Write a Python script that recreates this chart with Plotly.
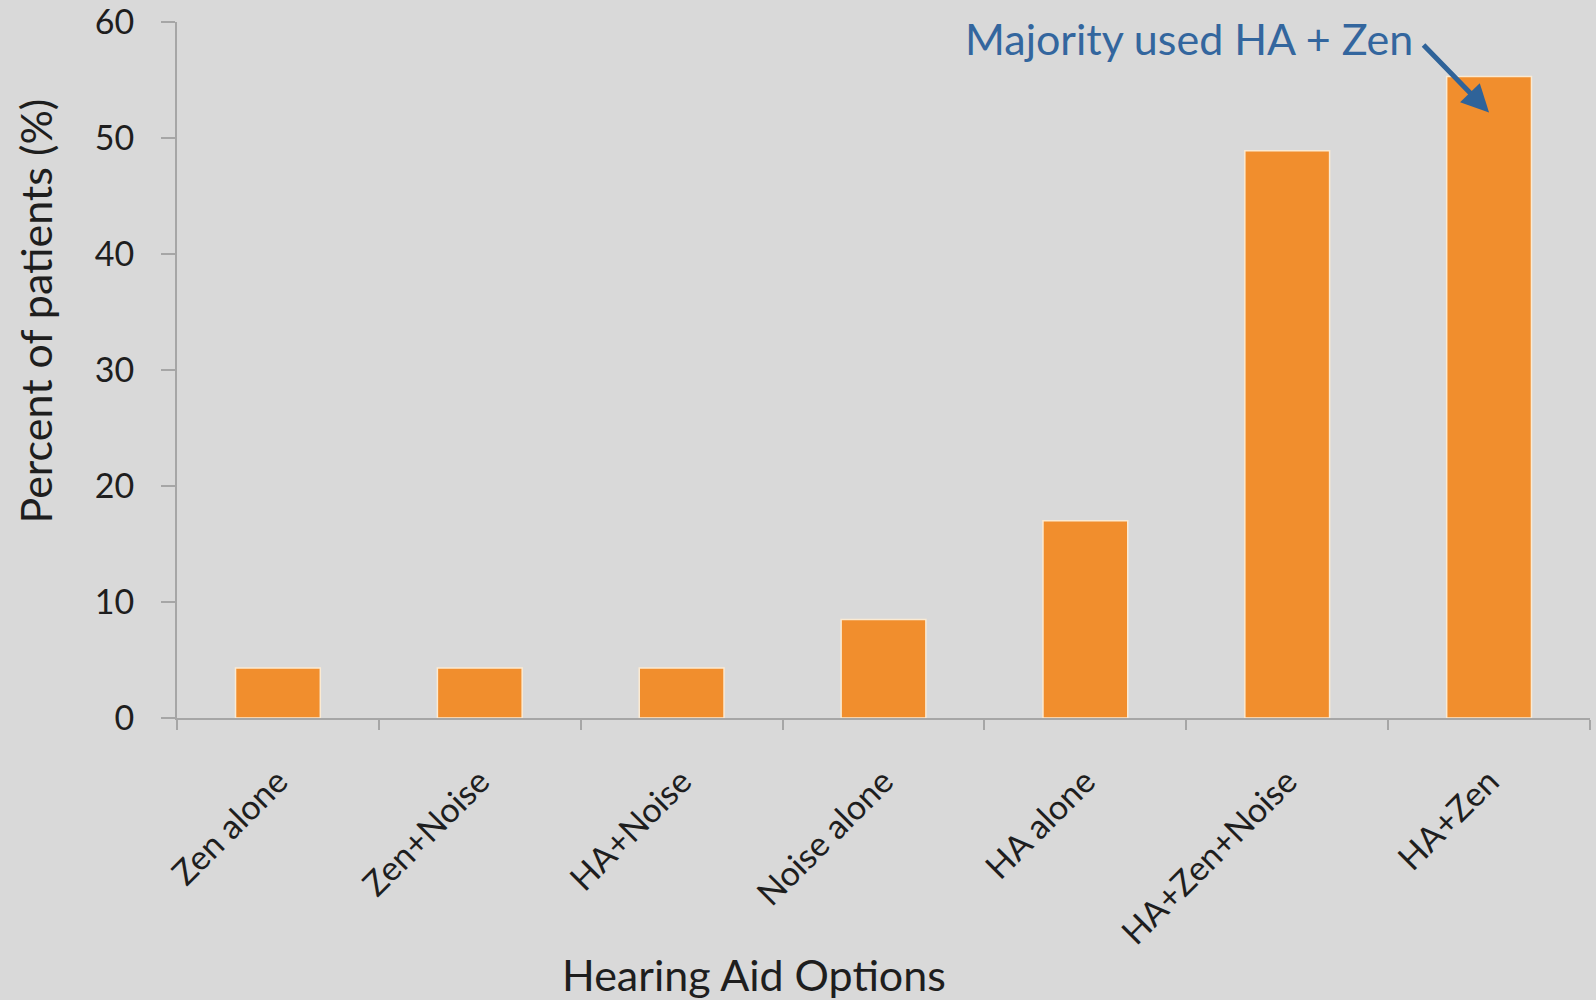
import plotly.graph_objects as go

options = ["Zen alone", "Zen+Noise", "HA+Noise", "Noise alone", "HA alone", "HA+Zen+Noise", "HA+Zen"]
percent = [4.3, 4.3, 4.3, 8.5, 17.0, 48.9, 55.3]
y_ticks = [0, 10, 20, 30, 40, 50, 60]

font_name = "Lato"
bg = "#D9D9D9"

fig = go.Figure()
fig.add_trace(go.Bar(
    x=options, y=percent,
    marker=dict(color="#F18E2D", line=dict(color="#FBEAD2", width=1.5)),
    width=0.42,
))

fig.update_layout(
    width=1596, height=1000,
    paper_bgcolor=bg, plot_bgcolor=bg,
    margin=dict(l=177, r=6, t=22, b=282, autoexpand=False),
    showlegend=False,
    font=dict(family=font_name, color="#1E1E1E"),
)
fig.update_yaxes(
    range=[0, 60], tickvals=y_ticks, showgrid=False, zeroline=False,
    showline=True, linecolor="#A6A6A6", linewidth=2, automargin=False,
    ticks="outside", ticklen=14, tickcolor="#A6A6A6", tickwidth=2,
    tickfont=dict(size=34), ticklabelstandoff=20, ticklabeloverflow="allow",
)
fig.update_xaxes(
    range=[-0.5, 6.5], automargin=False,
    showgrid=False, showline=True, linecolor="#A6A6A6", linewidth=2,
    ticks="outside", ticklen=10, tickcolor="#A6A6A6", tickwidth=2,
    tickson="boundaries", tickangle=-45, tickfont=dict(size=34),
    ticklabelstandoff=28, ticklabeloverflow="allow",
)

# axis titles placed by hand (they are off-centre in the original)
fig.add_annotation(
    text="Percent of patients (%)", xref="paper", yref="paper",
    x=-0.1, y=0.585, textangle=-90, showarrow=False,
    font=dict(size=43, color="#1E1E1E"), xanchor="center", yanchor="middle",
)
fig.add_annotation(
    text="Hearing Aid Options", xref="paper", yref="paper",
    x=0.408, y=-0.368, showarrow=False,
    font=dict(size=43, color="#1E1E1E"), xanchor="center", yanchor="middle",
)

# callout
fig.add_annotation(
    text="Majority used HA + Zen", xref="paper", yref="paper",
    x=0.876, y=0.9756, showarrow=False,
    font=dict(size=43, color="#33669E"), xanchor="right", yanchor="middle",
)
fig.add_annotation(
    text="", x=6.0, y=52.2, xref="x", yref="y",
    ax=-67, ay=-69, axref="pixel", ayref="pixel",
    showarrow=True, arrowhead=2, arrowsize=1.1, arrowwidth=5, arrowcolor="#2F6399",
)

fig.write_html("out.html", config={"displayModeBar": False},
               post_script="document.body.style.margin='0';")
